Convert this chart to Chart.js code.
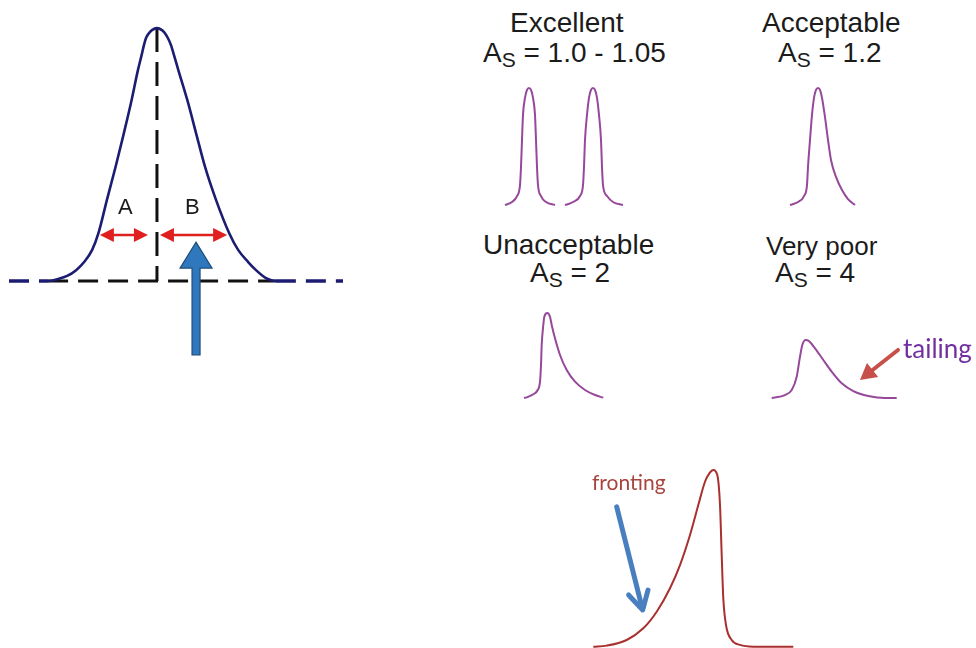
<!DOCTYPE html>
<html><head><meta charset="utf-8">
<script src="https://cdn.jsdelivr.net/npm/chart.js@4.4.1/dist/chart.umd.min.js"></script>
<style>
html,body{margin:0;padding:0;background:#fff;width:976px;height:648px;overflow:hidden}
canvas{position:absolute}
.t{position:absolute;font-family:"Liberation Sans",Arial,sans-serif;font-size:28px;line-height:28px;color:#1b1b1b;white-space:nowrap}
.t .s{font-size:21px;position:relative;top:5px}
.ab{position:absolute;font-family:"Liberation Sans",Arial,sans-serif;font-size:22px;line-height:22px;color:#1b1b1b}
.n{position:absolute;white-space:nowrap;font-family:Lato,"Open Sans",sans-serif}
</style></head><body>
<canvas id="cMain" width="334" height="349" style="left:9px;top:18px"></canvas>
<canvas id="cTop" width="420" height="135" style="left:490px;top:80px"></canvas>
<canvas id="cBot" width="420" height="112" style="left:490px;top:298px"></canvas>
<canvas id="cFront" width="210" height="188" style="left:585px;top:460px"></canvas>

<div class="ab" style="left:118px;top:196px">A</div>
<div class="ab" style="left:185px;top:196px">B</div>

<div class="t" style="left:510px;top:9px">Excellent</div>
<div class="t" style="left:483px;top:39px">A<span class="s">S</span> = 1.0 - 1.05</div>
<div class="t" style="left:762px;top:9px">Acceptable</div>
<div class="t" style="left:778px;top:39px">A<span class="s">S</span> = 1.2</div>
<div class="t" style="left:483px;top:231px">Unacceptable</div>
<div class="t" style="left:530px;top:259px">A<span class="s">S</span> = 2</div>
<div class="t" style="left:766px;top:232px;font-size:26px">Very poor</div>
<div class="t" style="left:775px;top:259px">A<span class="s">S</span> = 4</div>
<div class="n" style="left:903px;top:335px;font-size:26px;line-height:26px;color:#7030a0">tailing</div>
<div class="n" style="left:592px;top:471px;font-size:21px;line-height:21px;color:#a8443e">fronting</div>

<script>
// ---- data (time, signal) ----
const mainTime   = [0,11.7,14.7,17.4,20.1,22.5,24.9,26.8,29.3,31.9,34.4,36.7,38.6,39.7,40.4,41.0,41.9,42.8,44.3,45.8,46.7,47.6,48.5,49.4,50.7,53.4,56.0,58.7,62.0,65.9,68.6,71.6,73.95,76.0,77.5,79.9,100];
const mainSignal = [0,0,0.8,2.0,4.3,7.5,12.3,19.0,32.0,45.1,58.5,71.5,83.4,89.3,93.3,96.0,98.0,99.2,100,99.2,98.0,96.0,93.3,89.3,83.4,71.5,58.5,45.1,32.0,19.0,12.3,7.5,4.3,2.0,0.8,0,0];
const apexTime = [44.3,44.3];
const apexSignal = [100,0];
const baseTime = [11.7,79.9];
const baseSignal = [0,0];

const exc1Time   = [1.5,2.2,2.7,3.0,3.1,3.2,3.3,3.5,3.7,3.9,4.1,4.3,4.5,4.6,4.7,4.8,5.1,5.6,6.5];
const exc1Signal = [0,2.6,7.7,17,32.5,55.6,77,91.5,98.3,100,98.3,91.5,77,55.6,32.5,17,7.7,2.6,0];
const exc2Time   = [7.5,8.3,9.0,9.3,9.4,9.5,9.7,9.9,10.1,10.3,10.5,10.7,10.9,11.1,11.2,11.3,11.7,12.3,13.3];
const exc2Signal = [0,2.6,7.7,17,32.5,55.6,77,91.5,98.3,100,98.3,91.5,77,55.6,32.5,17,7.7,2.6,0];
const accTime    = [30,30.8,31.4,31.7,31.8,32.0,32.2,32.4,32.6,32.8,33.0,33.2,33.5,33.8,34.1,34.6,35.2,35.8,36.5];
const accSignal  = [0,2.6,7.7,17,32.5,55.6,77,91.5,98.3,100,98.3,91.5,75,55.6,38.5,24,12.8,5.1,0];

const unaTime    = [3.4,3.67,4.33,4.77,5.0,5.1,5.17,5.33,5.43,5.73,6.0,6.17,6.5,7.0,7.67,8.5,9.5,10.5,11.33];
const unaSignal  = [0,0.8,4.4,9.4,19.2,38.8,62.4,85.9,95.6,100,95.6,85.9,70.2,50.6,32.9,19.2,9.4,3.5,0.4];
const poorTime   = [28.17,29.5,30.17,30.67,31.0,31.23,31.57,31.83,32.5,33.33,34.17,35.17,36.33,37.83,39.5,40.67];
const poorSignal = [0,3.5,9.4,25.1,48.6,62.4,68.2,67.4,58.5,44.7,30.9,17.3,8.2,2.4,0,0];

const frontTime   = [0.83,2.17,4.17,5.83,7.17,8.5,9.5,10.5,11.33,12.0,12.45,12.83,13.23,13.5,13.67,13.83,14.1,14.67,15.5,16.83,20.83];
const frontSignal = [0,0.6,3.8,10.4,19.8,33.1,46.2,63.2,80.2,93.4,98.3,100,97.2,80.2,51.9,27.4,12.3,3.8,1.0,0,0];

const pts = (xs, ys) => xs.map((x, i) => ({x, y: ys[i]}));

// ---- arrow annotations drawn through the scales ----
const arrowPlugin = {
  id: 'arrows',
  afterDatasetsDraw(chart, args, opts) {
    const ctx = chart.ctx, sx = chart.scales.x, sy = chart.scales.y;
    (opts.items || []).forEach(a => {
      const x1 = sx.getPixelForValue(a.from[0]), y1 = sy.getPixelForValue(a.from[1]);
      const x2 = sx.getPixelForValue(a.to[0]),   y2 = sy.getPixelForValue(a.to[1]);
      const ang = Math.atan2(y2 - y1, x2 - x1), ux = Math.cos(ang), uy = Math.sin(ang);
      const px = -uy, py = ux;
      ctx.save();
      if (a.style === 'block') {
        const bx = x2 - ux * a.head, by = y2 - uy * a.head, w = a.shaft / 2;
        ctx.beginPath();
        ctx.moveTo(x1 + px * w, y1 + py * w);
        ctx.lineTo(bx + px * w, by + py * w);
        ctx.lineTo(bx + px * a.half, by + py * a.half);
        ctx.lineTo(x2, y2);
        ctx.lineTo(bx - px * a.half, by - py * a.half);
        ctx.lineTo(bx - px * w, by - py * w);
        ctx.lineTo(x1 - px * w, y1 - py * w);
        ctx.closePath();
        ctx.fillStyle = a.color; ctx.fill();
        ctx.strokeStyle = a.outline; ctx.lineWidth = 1.2; ctx.stroke();
        ctx.restore();
        return;
      }
      ctx.strokeStyle = a.color; ctx.fillStyle = a.color; ctx.lineWidth = a.width;
      ctx.lineCap = 'round'; ctx.lineJoin = 'round';
      const inset = a.style === 'open' ? 2 : a.head * 0.7;
      const sX = a.double ? x1 + ux * inset : x1, sY = a.double ? y1 + uy * inset : y1;
      ctx.beginPath(); ctx.moveTo(sX, sY); ctx.lineTo(x2 - ux * inset, y2 - uy * inset); ctx.stroke();
      const head = (tx, ty, dx, dy) => {
        const bx = tx - dx * a.head, by = ty - dy * a.head, qx = -dy, qy = dx;
        ctx.beginPath();
        if (a.style === 'open') {
          ctx.moveTo(bx + qx * a.half, by + qy * a.half); ctx.lineTo(tx, ty);
          ctx.lineTo(bx - qx * a.half, by - qy * a.half); ctx.stroke();
        } else {
          ctx.moveTo(tx, ty); ctx.lineTo(bx + qx * a.half, by + qy * a.half);
          ctx.lineTo(bx - qx * a.half, by - qy * a.half); ctx.closePath(); ctx.fill();
        }
      };
      head(x2, y2, ux, uy);
      if (a.double) head(x1, y1, -ux, -uy);
      ctx.restore();
    });
  }
};

function makeChart(id, datasets, xr, yr, arrows) {
  return new Chart(document.getElementById(id), {
    type: 'scatter',
    data: { datasets },
    options: {
      responsive: false, animation: false, devicePixelRatio: 1,
      layout: { padding: 0 },
      elements: { point: { radius: 0, hoverRadius: 0 } },
      plugins: { legend: { display: false }, tooltip: { enabled: false }, arrows: { items: arrows } },
      scales: {
        x: { type: 'linear', display: false, min: xr[0], max: xr[1] },
        y: { type: 'linear', display: false, min: yr[0], max: yr[1] }
      }
    },
    plugins: [arrowPlugin]
  });
}

const curve = (data, color, width, extra) => Object.assign({
  data, showLine: true, borderColor: color, borderWidth: width, pointRadius: 0,
  cubicInterpolationMode: 'monotone', fill: false
}, extra || {});

const NAVY = '#1c1c72', PURPLE = '#96489a', BROWN = '#a8302e';

makeChart('cMain', [
  curve(pts(mainTime, mainSignal), NAVY, 2.6, {
    segment: { borderDash: c => (c.p0.parsed.y === 0 && c.p1.parsed.y === 0) ? [20, 10] : undefined,
               borderWidth: c => (c.p0.parsed.y === 0 && c.p1.parsed.y === 0) ? 3.5 : 2.6 }
  }),
  curve(pts(apexTime, apexSignal), '#111111', 3, { borderDash: [24, 10], cubicInterpolationMode: 'default', tension: 0 }),
  curve(pts(baseTime, baseSignal), '#111111', 3, { borderDash: [20, 10], cubicInterpolationMode: 'default', tension: 0 })
], [0, 100], [-34, 104], [
  { from: [27.2, 18.2], to: [41.6, 18.2], double: true, color: '#e01f1f', width: 2.5, head: 14, half: 7 },
  { from: [45.2, 18.2], to: [65.3, 18.2], double: true, color: '#e01f1f', width: 2.5, head: 14, half: 7 },
  { from: [56, -29.2], to: [56, 15.4], style: 'block', color: '#2f78be', outline: '#1f4e79', shaft: 8, head: 26, half: 16 }
]);

makeChart('cTop', [
  curve(pts(exc1Time, exc1Signal), PURPLE, 2),
  curve(pts(exc2Time, exc2Signal), PURPLE, 2),
  curve(pts(accTime, accSignal), PURPLE, 2)
], [0, 42], [-8.5, 106.8], []);

makeChart('cBot', [
  curve(pts(unaTime, unaSignal), PURPLE, 2),
  curve(pts(poorTime, poorSignal), PURPLE, 2)
], [0, 42], [-14.1, 117.6], [
  { from: [40.8, 56.5], to: [37.0, 21.2], color: '#c8504a', width: 4, head: 16, half: 9 }
]);

makeChart('cFront', [
  curve(pts(frontTime, frontSignal), BROWN, 2)
], [0, 21], [-0.74, 105.7], [
  { from: [3.17, 79.2], to: [5.77, 20.8], style: 'open', color: '#4a7fbf', width: 5, head: 18, half: 10 }
]);
</script>
</body></html>
